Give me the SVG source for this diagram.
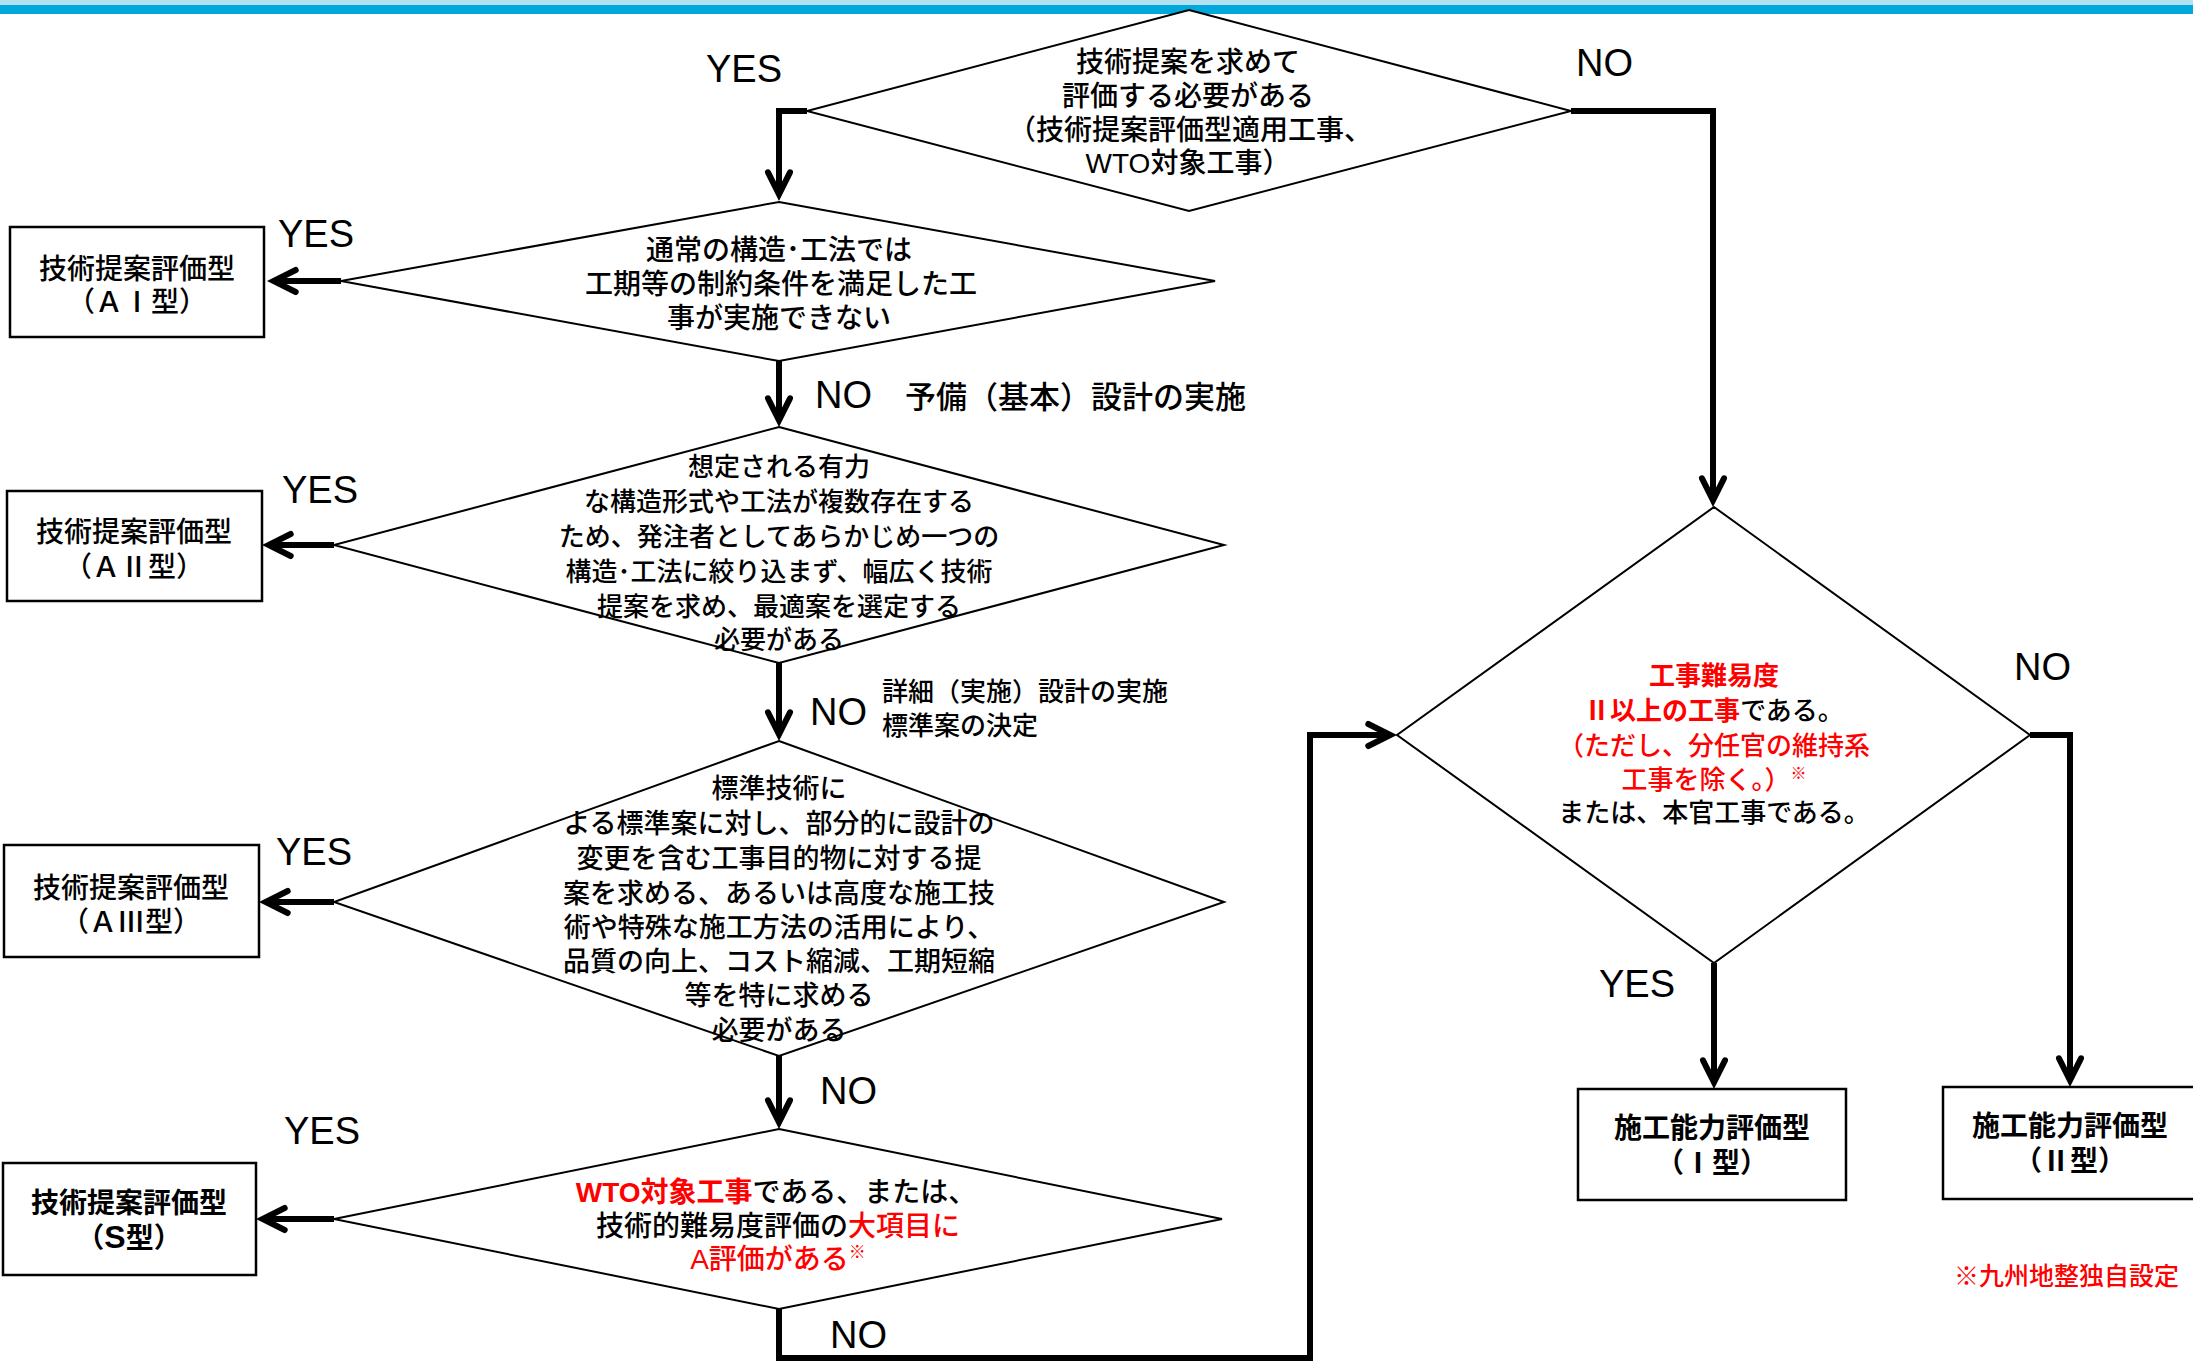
<svg xmlns="http://www.w3.org/2000/svg" width="2193" height="1362" viewBox="0 0 2193 1362">
<style>
.d{fill:#fff;stroke:#000;stroke-width:2}
.b{fill:#fff;stroke:#000;stroke-width:2.5}
.t{font-family:'Liberation Sans','Noto Sans CJK JP',sans-serif;font-weight:500;fill:#000;text-anchor:middle}
.lb{font-family:'Liberation Sans','Noto Sans CJK JP',sans-serif;font-size:38px;fill:#000}
.c{fill:none;stroke:#000;stroke-width:6;stroke-linejoin:miter;stroke-linecap:butt}
.r{fill:#ff0000}
.bold{font-weight:bold}
</style>
<defs>
<marker id="ah" markerUnits="userSpaceOnUse" markerWidth="40" markerHeight="40" viewBox="-30 -20 40 40" refX="0" refY="0" orient="auto" overflow="visible">
<path d="M-22.7,-11 L-0.7,0 L-22.7,11" fill="none" stroke="#000" stroke-width="6" stroke-linecap="round" stroke-linejoin="miter"/>
</marker>
</defs>
<rect width="2193" height="1362" fill="#fff"/>
<rect x="0" y="0" width="2193" height="5" fill="#b5e2f2"/>
<rect x="0" y="5" width="2193" height="9" fill="#00a8db"/>

<g id="connectors">
<path class="c" marker-end="url(#ah)" d="M807,111 H779 V195"/>
<path class="c" marker-end="url(#ah)" d="M1571,111 H1713 V501"/>
<path class="c" marker-end="url(#ah)" d="M341,281 H273"/>
<path class="c" marker-end="url(#ah)" d="M779,361 V421"/>
<path class="c" marker-end="url(#ah)" d="M334,545 H268"/>
<path class="c" marker-end="url(#ah)" d="M779,663 V735"/>
<path class="c" marker-end="url(#ah)" d="M334,902 H265"/>
<path class="c" marker-end="url(#ah)" d="M779,1056 V1123"/>
<path class="c" marker-end="url(#ah)" d="M334,1219 H262"/>
<path class="c" marker-end="url(#ah)" d="M779,1309 V1358 H1310 V735 H1391"/>
<path class="c" marker-end="url(#ah)" d="M2030,735 H2070 V1081"/>
<path class="c" marker-end="url(#ah)" d="M1714,963 V1083"/>
<text class="lb" x="706" y="82">YES</text>
<text class="lb" x="1576" y="76">NO</text>
<text class="lb" x="278" y="247">YES</text>
<text class="lb" x="815" y="408">NO</text>
<text class="t" x="905" y="408" font-size="31" style="text-anchor:start">予備（基本）設計の実施</text>
<text class="lb" x="282" y="503">YES</text>
<text class="lb" x="810" y="725">NO</text>
<text class="t" x="882" y="701" font-size="26" style="text-anchor:start">詳細（実施）設計の実施</text>
<text class="t" x="882" y="735" font-size="26" style="text-anchor:start">標準案の決定</text>
<text class="lb" x="276" y="865">YES</text>
<text class="lb" x="820" y="1104">NO</text>
<text class="lb" x="284" y="1144">YES</text>
<text class="lb" x="830" y="1348">NO</text>
<text class="lb" x="2014" y="680">NO</text>
<text class="lb" x="1599" y="997">YES</text>
</g>

<g id="d1">
<polygon class="d" points="1189,10 1571,111 1189,211 807,111"/>
<text class="t" font-size="28" x="1188" y="72">技術提案を求めて</text>
<text class="t" font-size="28" x="1188" y="106">評価する必要がある</text>
<text class="t" font-size="28" x="1190" y="140">（技術提案評価型適用工事、</text>
<text class="t" font-size="28" x="1188" y="173">WTO対象工事）</text>
</g>

<g id="d2">
<polygon class="d" points="779,202 1215,281 779,361 341,281"/>
<text class="t" font-size="28" x="779" y="260">通常の構造･工法では</text>
<text class="t" font-size="28" x="781" y="294">工期等の制約条件を満足した工</text>
<text class="t" font-size="28" x="779" y="328">事が実施できない</text>
</g>

<g id="d3">
<polygon class="d" points="779,427 1224,545 779,663 334,545"/>
<text class="t" font-size="26" x="779" y="476">想定される有力</text>
<text class="t" font-size="26" x="779" y="511">な構造形式や工法が複数存在する</text>
<text class="t" font-size="26" x="779" y="546">ため、発注者としてあらかじめ一つの</text>
<text class="t" font-size="26" x="779" y="581">構造･工法に絞り込まず、幅広く技術</text>
<text class="t" font-size="26" x="779" y="616">提案を求め、最適案を選定する</text>
<text class="t" font-size="26" x="779" y="649">必要がある</text>
</g>

<g id="d4">
<polygon class="d" points="779,741 1224,902 779,1056 334,902"/>
<text class="t" font-size="27" x="779" y="798">標準技術に</text>
<text class="t" font-size="27" x="779" y="833">よる標準案に対し、部分的に設計の</text>
<text class="t" font-size="27" x="779" y="868">変更を含む工事目的物に対する提</text>
<text class="t" font-size="27" x="779" y="903">案を求める、あるいは高度な施工技</text>
<text class="t" font-size="27" x="779" y="937">術や特殊な施工方法の活用により、</text>
<text class="t" font-size="27" x="779" y="971">品質の向上、コスト縮減、工期短縮</text>
<text class="t" font-size="27" x="779" y="1005">等を特に求める</text>
<text class="t" font-size="27" x="779" y="1040">必要がある</text>
</g>

<g id="d_wto">
<polygon class="d" points="779,1129 1222,1219 779,1309 334,1219"/>
<text class="t" font-size="28" x="776" y="1202"><tspan class="r bold">WTO対象工事</tspan>である、または、</text>
<text class="t" font-size="28" x="778" y="1236">技術的難易度評価の<tspan class="r">大項目に</tspan></text>
<text class="t r" font-size="28" x="778" y="1269">A評価がある<tspan font-size="17" dy="-11">※</tspan></text>
</g>

<g id="d5">
<polygon class="d" points="1714,507 2030,735 1714,963 1397,735"/>
<text class="t r bold" font-size="26" x="1714" y="685">工事難易度</text>
<text class="t" font-size="26" x="1714" y="720"><tspan class="r bold">Ⅱ以上の工事</tspan>である。</text>
<text class="t r" font-size="26" x="1714" y="755">（ただし、分任官の維持系</text>
<text class="t r" font-size="26" x="1714" y="789">工事を除く。）<tspan font-size="16" dy="-10">※</tspan></text>
<text class="t" font-size="26" x="1714" y="822">または、本官工事である。</text>
</g>

<g id="box_a1">
<rect class="b" x="10" y="227" width="254" height="110"/>
<text class="t" font-size="28" x="137" y="279">技術提案評価型</text>
<text class="t" font-size="28" x="137" y="312">（ＡⅠ型）</text>
</g>

<g id="box_a2">
<rect class="b" x="7" y="491" width="255" height="110"/>
<text class="t" font-size="28" x="134" y="542">技術提案評価型</text>
<text class="t" font-size="28" x="134" y="577">（ＡⅡ型）</text>
</g>

<g id="box_a3">
<rect class="b" x="4" y="845" width="255" height="112"/>
<text class="t" font-size="28" x="131" y="898">技術提案評価型</text>
<text class="t" font-size="28" x="131" y="932">（ＡⅢ型）</text>
</g>

<g id="box_s">
<rect class="b" x="3" y="1163" width="253" height="112"/>
<text class="t bold" font-size="28" x="129" y="1213">技術提案評価型</text>
<text class="t bold" font-size="28" x="129" y="1248">（<tspan font-size="32">S</tspan>型）</text>
</g>

<g id="box_c1">
<rect class="b" x="1578" y="1089" width="268" height="111"/>
<text class="t bold" font-size="28" x="1712" y="1138">施工能力評価型</text>
<text class="t bold" font-size="28" x="1712" y="1173">（Ⅰ型）</text>
</g>

<g id="box_c2">
<rect class="b" x="1943" y="1087" width="268" height="112"/>
<text class="t bold" font-size="28" x="2070" y="1136">施工能力評価型</text>
<text class="t bold" font-size="28" x="2070" y="1171">（Ⅱ型）</text>
</g>

<g id="footnote">
<text class="t r" font-size="25" x="1954" y="1285" style="text-anchor:start">※九州地整独自設定</text>
</g>
</svg>
